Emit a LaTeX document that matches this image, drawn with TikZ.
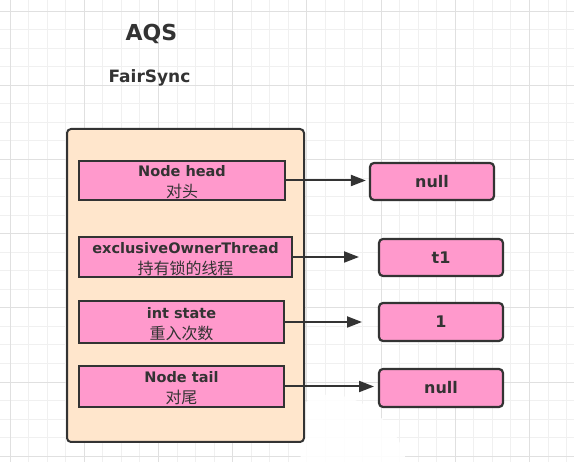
\documentclass[tikz,border=0pt]{standalone}
\usepackage{fontspec}
\setmainfont{DejaVu Sans}
\newfontfamily\cjk{Noto Sans CJK SC}
\usetikzlibrary{arrows.meta}
\definecolor{gridminor}{HTML}{F0F0F0}
\definecolor{gridmajor}{HTML}{E0E0E0}
\definecolor{peach}{HTML}{FFE6CC}
\definecolor{pinkfill}{HTML}{FF99CC}
\definecolor{ink}{HTML}{333333}
\newcommand{\toplift}{\rule{0pt}{15pt}}
\begin{document}
\begin{tikzpicture}[x=1pt,y=-1pt,
  outerbox/.style={draw=ink, fill=peach, line width=2pt, rounded corners=4pt, minimum width=237pt, minimum height=313pt, inner sep=0pt},
  fieldbox/.style={draw=ink, fill=pinkfill, line width=2.2pt, inner sep=0pt, align=center, text=ink, font=\bfseries\fontsize{14.5}{21}\selectfont},
  valbox/.style={draw=ink, fill=pinkfill, line width=2.2pt, rounded corners=4pt, minimum width=124pt, minimum height=37pt, inner sep=0pt, text=ink, font=\bfseries\fontsize{16}{19}\selectfont},
  ptr/.style={draw=ink, line width=2pt, -{Triangle[length=15pt,width=11pt]}},
  titletext/.style={text=ink, anchor=base, inner sep=0pt},
  gridmin/.style={draw=gridminor, line width=0.8pt},
  gridmaj/.style={draw=gridmajor, line width=0.9pt},
]
\useasboundingbox (0,0) rectangle (574,462);
\fill[white] (0,0) rectangle (574,462);
% grid
\foreach \i in {-1,...,31} {
  \draw[gridmin] ({10+18.55*\i},0) -- ({10+18.55*\i},462);
}
\foreach \i in {-1,...,25} {
  \draw[gridmin] (0,{11+18.55*\i}) -- (574,{11+18.55*\i});
}
\foreach \i in {0,...,7} {
  \draw[gridmaj] ({10+74.2*\i},0) -- ({10+74.2*\i},462);
}
\foreach \i in {0,...,6} {
  \draw[gridmaj] (0,{11+74.2*\i}) -- (574,{11+74.2*\i});
}
% erased patch
\fill[white, opacity=0.92] (306,402) .. controls (320,390) and (350,392) .. (375,412)
  .. controls (392,428) and (404,445) .. (406,462) -- (300,462) -- cycle;

% titles
\node[titletext, font=\bfseries\fontsize{22}{26}\selectfont] (aqs) at (151.5,41) {AQS};
\node[titletext, font=\bfseries\fontsize{17}{20}\selectfont] (fs) at (149.5,83) {FairSync};

% outer container
\node[outerbox] (outer) at (185.5,285.5) {};

% fields
\node[fieldbox, minimum width=206pt, minimum height=39pt] (head) at (182,180.5)
  {\toplift Node head\\{\cjk\mdseries\fontsize{16}{21}\selectfont 对头}};
\node[fieldbox, minimum width=213pt, minimum height=40pt] (owner) at (185.5,257)
  {\toplift exclusiveOwnerThread\\{\cjk\mdseries\fontsize{16}{21}\selectfont 持有锁的线程}};
\node[fieldbox, minimum width=205pt, minimum height=42pt] (state) at (181.5,322)
  {\toplift int state\\{\cjk\mdseries\fontsize{16}{21}\selectfont 重入次数}};
\node[fieldbox, minimum width=205pt, minimum height=41pt] (tail) at (181.5,386.5)
  {\toplift Node tail\\{\cjk\mdseries\fontsize{16}{21}\selectfont 对尾}};

% values
\node[valbox] (vhead) at (432,181.5) {null};
\node[valbox] (vowner) at (441,257.5) {t1};
\node[valbox, minimum height=38pt] (vstate) at (441,322) {1};
\node[valbox, minimum height=38pt] (vtail) at (441,388) {null};

% free ends
\coordinate (eowner) at (359,257);
\coordinate (estate) at (362,322);
\coordinate (etail) at (374,386.5);

% pointers
\draw[ptr, shorten >=3pt] (head.east) -- (head.east -| vhead.west);
\draw[ptr] (owner.east) -- (eowner);
\draw[ptr] (state.east) -- (estate);
\draw[ptr] (tail.east) -- (etail);
\end{tikzpicture}
\end{document}
